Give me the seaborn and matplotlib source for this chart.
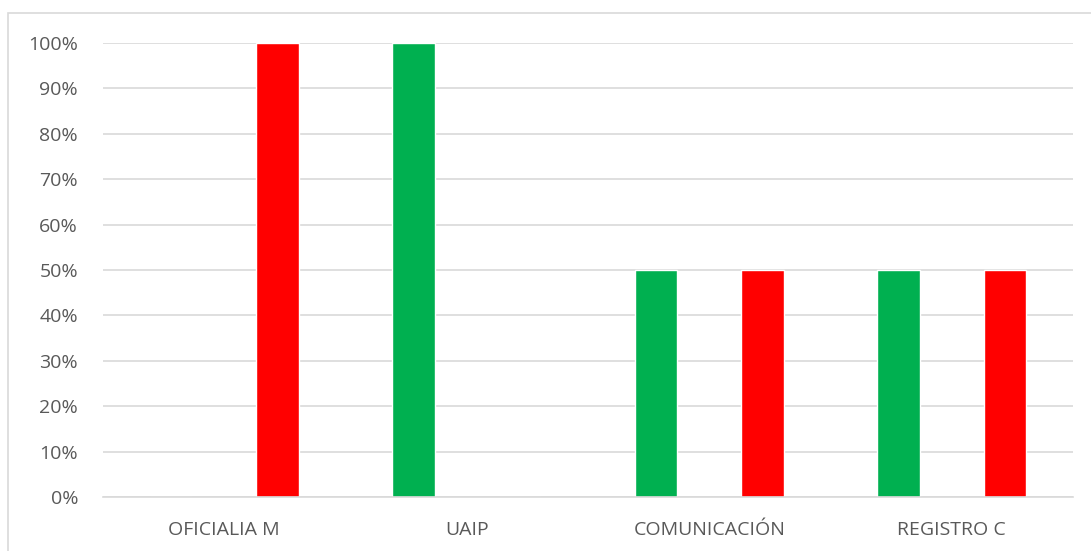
import pandas as pd
import matplotlib.pyplot as plt
import seaborn as sns
from matplotlib.patches import Rectangle
from matplotlib.ticker import PercentFormatter

# data
categories = ["OFICIALIA M", "UAIP", "COMUNICACIÓN", "REGISTRO C"]
serie_verde = [0.0, 1.0, 0.5, 0.5]
serie_roja = [1.0, 0.0, 0.5, 0.5]
series = ["Verde", "Rojo"]

df = pd.DataFrame({
    "categoria": categories * 2,
    "valor": serie_verde + serie_roja,
    "serie": [series[0]] * 4 + [series[1]] * 4,
})

sns.set_style("white")
plt.rcParams["font.family"] = ["Open Sans", "DejaVu Sans"]

fig = plt.figure(figsize=(10.91, 5.51), dpi=100)
ax = fig.add_axes([103 / 1091, 1 - 497 / 551, (1073 - 103) / 1091, (497 - 43) / 551])

sns.barplot(
    data=df, x="categoria", y="valor", hue="serie",
    palette=["#00B050", "#FF0000"], width=0.88, gap=0.6,
    saturation=1, legend=False, ax=ax,
)

ax.set_ylim(0, 1)
ax.set_xlim(-0.5, 3.5)
ax.set_yticks([i / 10 for i in range(11)])
ax.yaxis.set_major_formatter(PercentFormatter(1.0, decimals=0))
ax.grid(axis="y", color="#D9D9D9", linewidth=1.2)
ax.set_axisbelow(True)
for side in ["top", "right", "left"]:
    ax.spines[side].set_visible(False)
ax.spines["bottom"].set_color("#D9D9D9")
ax.spines["bottom"].set_linewidth(1.2)
ax.tick_params(axis="both", length=0, labelsize=14, labelcolor="#595959")
ax.tick_params(axis="y", pad=18)
ax.tick_params(axis="x", pad=17)
ax.set_xlabel("")
ax.set_ylabel("")

# chart area border
fig.patches.append(Rectangle((8 / 1091, -0.02), 1.05, 1 - 13 / 551 + 0.02,
                             transform=fig.transFigure, fill=False,
                             edgecolor="#D9D9D9", linewidth=1.2))

fig.savefig("out.png", dpi=100)
